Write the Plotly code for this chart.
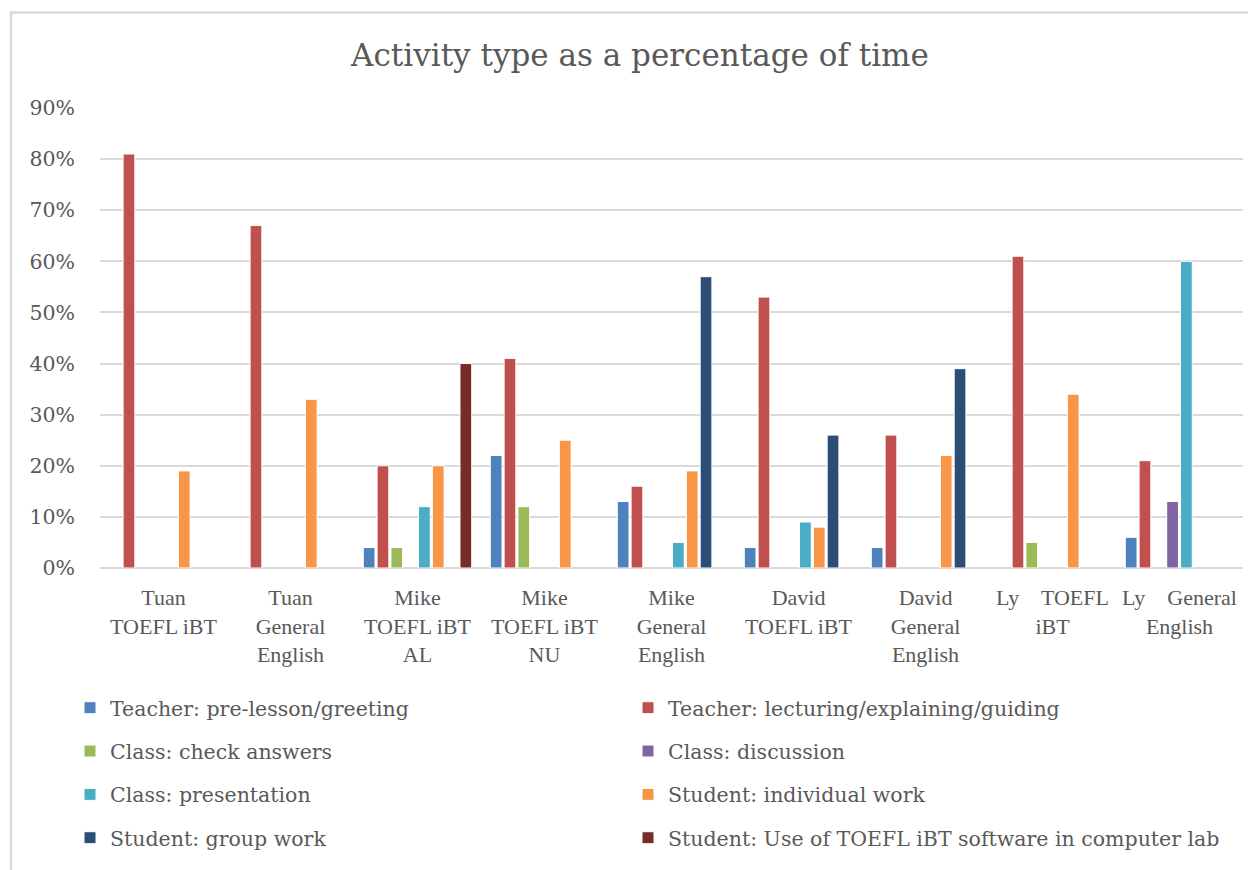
import plotly.graph_objects as go

categories = [
    "Tuan<br>TOEFL iBT", "Tuan<br>General<br>English", "Mike<br>TOEFL iBT<br>AL",
    "Mike<br>TOEFL iBT<br>NU", "Mike<br>General<br>English", "David<br>TOEFL iBT",
    "David<br>General<br>English", "Ly    TOEFL<br>iBT", "Ly    General<br>English",
]

series_names = [
    "Teacher: pre-lesson/greeting",
    "Teacher: lecturing/explaining/guiding",
    "Class: check answers",
    "Class: discussion",
    "Class: presentation",
    "Student: individual work",
    "Student: group work",
    "Student: Use of TOEFL iBT software in computer lab",
]

pre_lesson = [0, 0, 0.04, 0.22, 0.13, 0.04, 0.04, 0, 0.06]
lecturing = [0.81, 0.67, 0.20, 0.41, 0.16, 0.53, 0.26, 0.61, 0.21]
check_answers = [0, 0, 0.04, 0.12, 0, 0, 0, 0.05, 0]
discussion = [0, 0, 0, 0, 0, 0, 0, 0, 0.13]
presentation = [0, 0, 0.12, 0, 0.05, 0.09, 0, 0, 0.60]
individual = [0.19, 0.33, 0.20, 0.25, 0.19, 0.08, 0.22, 0.34, 0]
group_work = [0, 0, 0, 0, 0.57, 0.26, 0.39, 0, 0]
software = [0, 0, 0.40, 0, 0, 0, 0, 0, 0]

colors = ["#4F81BD", "#C0504D", "#9BBB59", "#8064A2", "#4BACC6", "#F79646", "#2C4D75", "#772C2A"]
series_values = [pre_lesson, lecturing, check_answers, discussion, presentation, individual, group_work, software]

SERIF = "DejaVu Serif"
TICKSERIF = "Liberation Serif"
TXT = "#595959"

W, H = 1248, 862
ML, MR, MT, MB = 92, 13, 100, 295
PW = W - ML - MR
PH = H - MT - MB

fig = go.Figure()
legend_layouts = {}
row_y = [709, 753, 797, 841]
col_x = [62, 620]
for i, (name, vals, col) in enumerate(zip(series_names, series_values, colors)):
    lname = "legend" if i == 0 else f"legend{i + 1}"
    fig.add_trace(go.Bar(
        x=categories, y=[v if v else None for v in vals], name=name, legend=lname,
        marker=dict(color=col, line=dict(color="white", width=1)),
    ))
    r, c = divmod(i, 2)
    legend_layouts[lname] = dict(
        x=(col_x[c] - ML) / PW, xanchor="left",
        y=(MT + PH - row_y[r]) / PH, yanchor="middle",
        font=dict(family=SERIF, size=20.5, color=TXT),
        bgcolor="rgba(0,0,0,0)", borderwidth=0, itemwidth=30,
    )

fig.update_layout(
    width=W, height=H,
    barmode="group", bargap=0.13, bargroupgap=0.15,
    paper_bgcolor="white", plot_bgcolor="white",
    margin=dict(l=ML, r=MR, t=MT, b=MB),
    font=dict(family=SERIF, color=TXT, size=20.5),
    title=dict(text="Activity type as a percentage of time", x=0.5064, xanchor="center",
               y=1 - 47 / H, yanchor="middle", yref="container",
               font=dict(family=SERIF, size=31, color=TXT)),
    showlegend=True,
    **legend_layouts,
)
fig.update_yaxes(range=[0, 0.9], dtick=0.1, tickformat=".0%", showgrid=True,
                 gridcolor="#D9D9D9", gridwidth=2, zeroline=True, zerolinecolor="#D9D9D9",
                 zerolinewidth=2, showline=False, ticks="", ticklabelstandoff=24,
                 tickfont=dict(family=SERIF, size=20.5, color=TXT))
fig.update_xaxes(showline=False, ticks="", tickangle=0, ticklabelstandoff=14,
                 tickfont=dict(family=TICKSERIF, size=22, color=TXT))

fig.add_shape(type="rect", xref="paper", yref="paper",
              x0=(3 - ML) / PW, x1=(W + 60 - ML) / PW,
              y0=(MT + PH - (H + 60)) / PH, y1=(MT + PH - 3) / PH,
              line=dict(color="#D9D9D9", width=2.5), fillcolor="rgba(0,0,0,0)", layer="below")

fig.write_html("out.html")
